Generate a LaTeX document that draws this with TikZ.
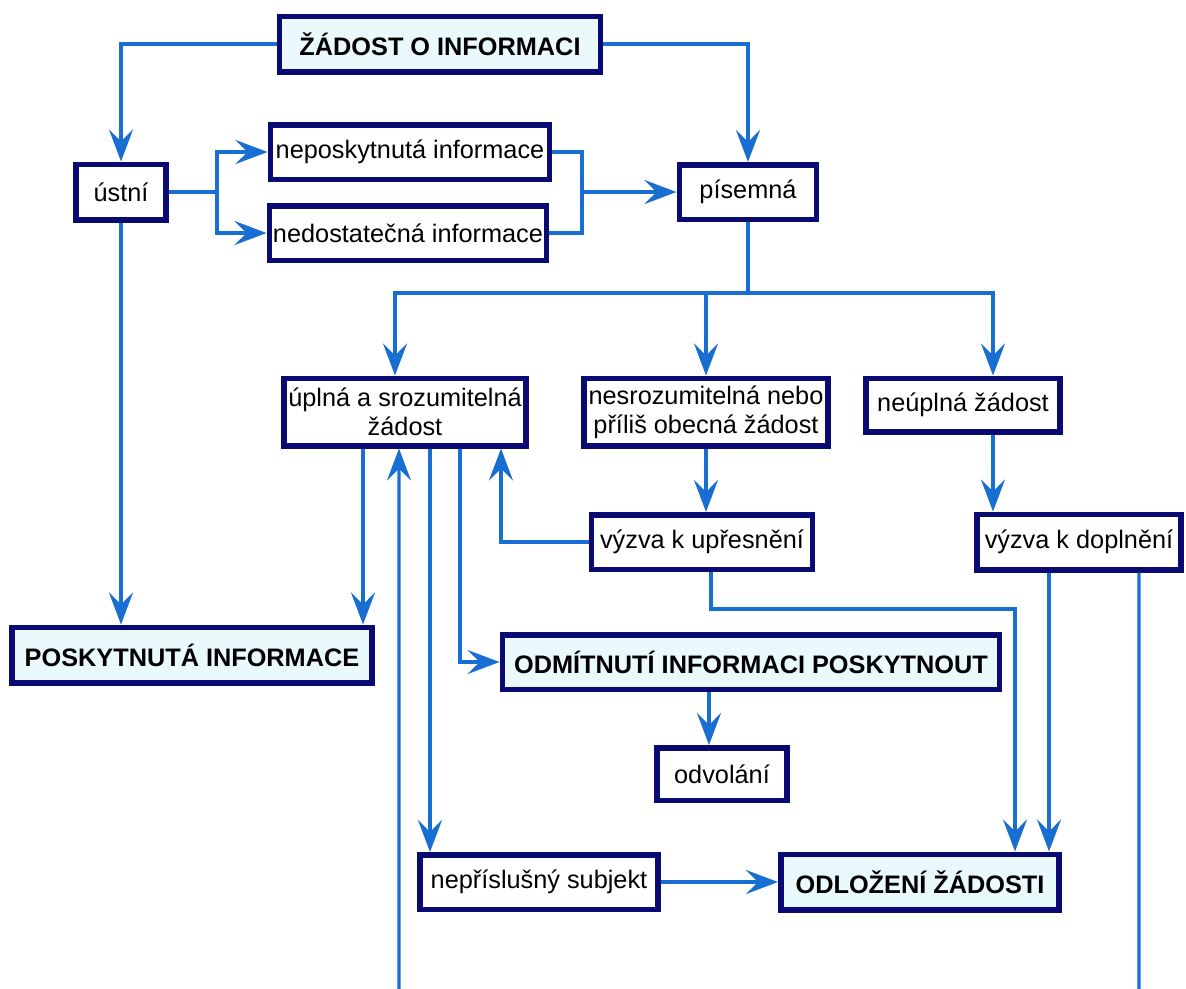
\documentclass[tikz,border=0pt]{standalone}
\usepackage{fontspec}
\setmainfont{Liberation Sans}
\usepackage{tikz}
\usetikzlibrary{arrows.meta,calc}
\definecolor{boxline}{RGB}{10,10,115}
\definecolor{flowline}{RGB}{25,110,210}
\definecolor{keyfill}{RGB}{234,249,252}

\begin{document}
\begin{tikzpicture}[x=0.02cm, y=-0.02cm, font=\fontsize{14.4}{16.5}\selectfont,
  box/.style={draw=boxline, line width=0.11cm, fill=white, inner sep=0pt, minimum height=1.09cm, align=center},
  key box/.style={box, fill=keyfill, font=\fontsize{14.4}{16.5}\selectfont\bfseries},
  flow/.style={draw=flowline, line width=0.065cm},
  arr/.style={flow, -{Stealth[length=0.64cm, width=0.48cm, inset=0.24cm]}}]
\useasboundingbox (0,0) rectangle (1186,988);
\node[key box, minimum width=6.43cm, minimum height=1.11cm] (1) at (440,44) {ŽÁDOST O INFORMACI};
\node[box, minimum width=1.81cm, minimum height=1.11cm] (2) at (121,192) {ústní};
\node[box, minimum width=5.59cm] (3) at (410,152) {neposkytnutá informace};
\node[box, minimum width=5.55cm] (4) at (408,233) {nedostatečná informace};
\node[box, minimum width=2.75cm] (5) at (748,192) {písemná};
\node[box, minimum width=4.85cm, minimum height=1.35cm] (6) at (405,412) {úplná a srozumitelná\\žádost};
\node[box, minimum width=4.89cm, minimum height=1.35cm] (7) at (706,412) {nesrozumitelná nebo\\příliš obecná žádost};
\node[box, minimum width=4.43cm] (8) at (702,542) {výzva k upřesnění};
\node[box, minimum width=3.89cm, minimum height=1.07cm] (9) at (963,405) {neúplná žádost};
\node[box, minimum width=4.09cm, minimum height=1.11cm] (10) at (1079,542) {výzva k doplnění};
\node[key box, minimum width=7.21cm, minimum height=1.11cm] (11) at (192,655) {POSKYTNUTÁ INFORMACE};
\node[key box, minimum width=9.95cm] (12) at (751,662) {ODMÍTNUTÍ INFORMACI POSKYTNOUT};
\node[box, minimum width=2.61cm, minimum height=1.05cm] (13) at (722,774) {odvolání};
\node[box, minimum width=4.77cm] (14) at (539,882) {nepříslušný subjekt};
\node[key box, minimum width=5.57cm, minimum height=1.11cm] (15) at (920,882) {ODLOŽENÍ ŽÁDOSTI};
% junctions and loose ends
\coordinate (a) at (217,192);
\coordinate (b) at (582,192);
\coordinate (c) at (748,293);
\coordinate (d) at (1015,609);
\coordinate (e) at (1139,995);
\coordinate (f) at (399,995);
% request
\draw[arr] (1.west) -| (2.north);
\draw[arr] (1.east) -| (5.north);
\draw[arr] (2.east) -- (a) |- (3.west);
\draw[arr] (a) |- (4.west);
\draw[flow] (3.east) -| (b);
\draw[flow] (4.east) -| (b);
\draw[arr] (b) -- (b -| 5.west);
\draw[arr] (2.south) -- (2.south |- 11.north);
% written request
\draw[flow] (5.south) -- (c);
\draw[arr] (c) -| ([xshift=-0.2cm]6.north);
\draw[arr] (c) -| ([xshift=0.6cm]9.north);
\draw[arr] (7.north |- c) -- (7.north);
\draw[arr] (7.south) -- (7.south |- 8.north);
\draw[arr] (8.west) -| ([xshift=1.92cm]6.south);
\draw[arr] ([xshift=0.6cm]9.south) -- ([xshift=0.6cm]9.south |- 10.north);
% outcomes
\draw[arr] ([xshift=-0.84cm]6.south) -- ([xshift=-0.84cm]6.south |- 11.north);
\draw[arr] (f) -- ([xshift=-0.12cm]6.south);
\draw[arr] ([xshift=0.5cm]6.south) -- ([xshift=0.5cm]6.south |- 14.north);
\draw[arr] ([xshift=1.1cm]6.south) |- (12.west);
\draw[arr] ([xshift=-0.84cm]12.south) -- ([xshift=-0.84cm]12.south |- 13.north);
\draw[arr] ([xshift=0.18cm]8.south) |- (d) -- (d |- 15.north);
\draw[arr] ([xshift=-0.6cm]10.south) -- ([xshift=-0.6cm]10.south |- 15.north);
\draw[flow] ([xshift=1.2cm]10.south) -- (e);
\draw[arr] (14.east) -- (15.west);
\end{tikzpicture}
\end{document}
